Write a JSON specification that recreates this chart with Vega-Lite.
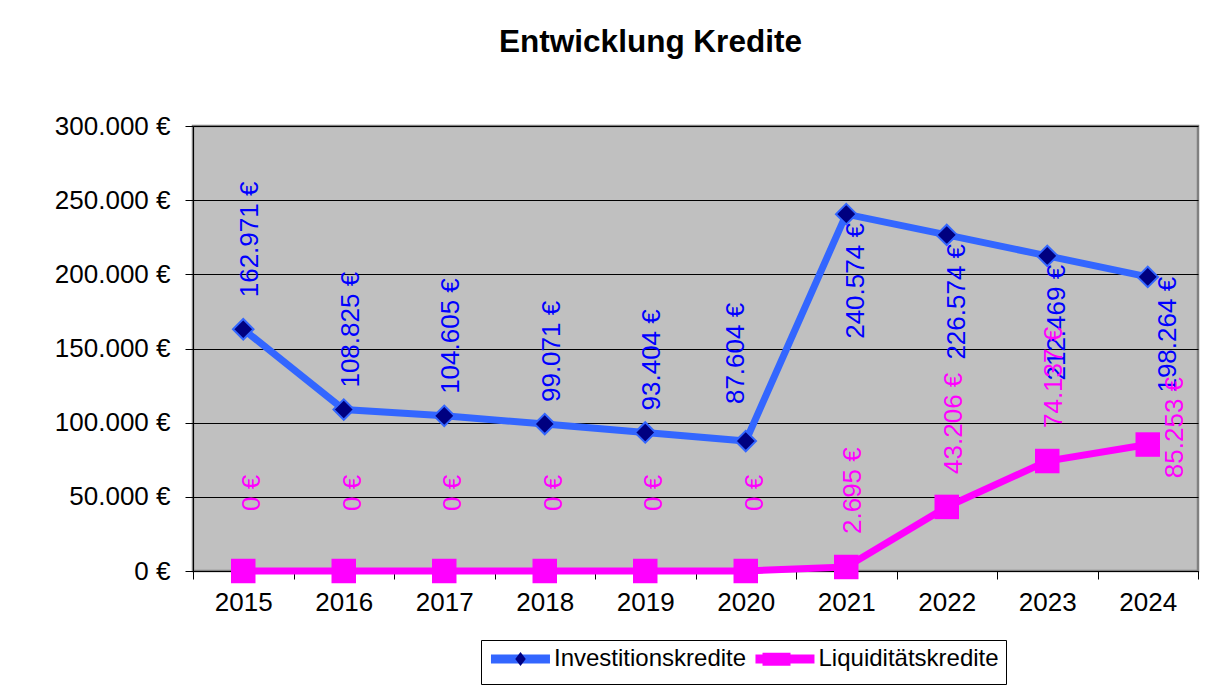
{
  "$schema": "https://vega.github.io/schema/vega-lite/v6.json",
  "width": 1005,
  "height": 445,
  "autosize": {"type": "none"},
  "padding": {"left": 193, "top": 126, "right": 24, "bottom": 115},
  "background": "white",
  "config": {
    "font": "Liberation Sans",
    "locale": {"number": {"decimal": ",", "thousands": ".", "grouping": [3], "currency": ["", " €"]}},
    "view": {"fill": "#C0C0C0", "stroke": "#808080", "strokeWidth": 2.5}
  },
  "title": {
    "text": "Entwicklung Kredite",
    "fontSize": 31.5,
    "fontWeight": "bold",
    "color": "black",
    "anchor": "middle",
    "dx": -45,
    "offset": 55
  },
  "data": {
    "values": [
      {"year": 2015, "series": "Investitionskredite", "value": 162971},
      {"year": 2016, "series": "Investitionskredite", "value": 108825},
      {"year": 2017, "series": "Investitionskredite", "value": 104605},
      {"year": 2018, "series": "Investitionskredite", "value": 99071},
      {"year": 2019, "series": "Investitionskredite", "value": 93404},
      {"year": 2020, "series": "Investitionskredite", "value": 87604},
      {"year": 2021, "series": "Investitionskredite", "value": 240574},
      {"year": 2022, "series": "Investitionskredite", "value": 226574},
      {"year": 2023, "series": "Investitionskredite", "value": 212469},
      {"year": 2024, "series": "Investitionskredite", "value": 198264},
      {"year": 2015, "series": "Liquiditätskredite", "value": 0},
      {"year": 2016, "series": "Liquiditätskredite", "value": 0},
      {"year": 2017, "series": "Liquiditätskredite", "value": 0},
      {"year": 2018, "series": "Liquiditätskredite", "value": 0},
      {"year": 2019, "series": "Liquiditätskredite", "value": 0},
      {"year": 2020, "series": "Liquiditätskredite", "value": 0},
      {"year": 2021, "series": "Liquiditätskredite", "value": 2695},
      {"year": 2022, "series": "Liquiditätskredite", "value": 43206},
      {"year": 2023, "series": "Liquiditätskredite", "value": 74137},
      {"year": 2024, "series": "Liquiditätskredite", "value": 85253}
    ]
  },
  "encoding": {
    "x": {
      "field": "year",
      "type": "ordinal",
      "scale": {"type": "band", "paddingInner": 0, "paddingOuter": 0},
      "axis": {
        "title": null,
        "labelAngle": 0,
        "labelFontSize": 26,
        "labelColor": "black",
        "tickBand": "extent",
        "tickSize": 8,
        "tickColor": "black",
        "domainColor": "black",
        "labelPadding": 10,
        "grid": false
      }
    },
    "y": {
      "field": "value",
      "type": "quantitative",
      "scale": {"domain": [0, 300000]},
      "axis": {
        "title": null,
        "values": [0, 50000, 100000, 150000, 200000, 250000, 300000],
        "format": "$,.0f",
        "labelFontSize": 26,
        "labelColor": "black",
        "tickSize": 8,
        "tickColor": "black",
        "domainColor": "black",
        "gridColor": "black",
        "gridWidth": 1,
        "labelPadding": 15
      }
    }
  },
  "layer": [
    {
      "mark": {"type": "line", "strokeWidth": 7},
      "encoding": {
        "stroke": {
          "field": "series",
          "type": "nominal",
          "scale": {"domain": ["Investitionskredite", "Liquiditätskredite"], "range": ["#3366FF", "#FF00FF"]},
          "legend": {
            "title": null,
            "orient": "none",
            "legendX": 288,
            "legendY": 514,
            "direction": "horizontal",
            "padding": 7,
            "strokeColor": "black",
            "fillColor": "white",
            "labelFontSize": 24,
            "labelColor": "black",
            "labelLimit": 400,
            "labelOffset": 42,
            "columnPadding": -10.5,
            "symbolType": "M-1.29,0L7.14,0",
            "symbolSize": 196,
            "symbolStrokeWidth": 9,
            "symbolOpacity": 1
          }
        }
      }
    },
    {
      "transform": [{"filter": "false"}],
      "mark": {"type": "point", "filled": true, "strokeWidth": 0, "opacity": 1},
      "encoding": {
        "fill": {
          "field": "s2",
          "type": "nominal",
          "scale": {"domain": ["I", "L"], "range": ["#000080", "#FF00FF"]},
          "legend": {
            "title": null,
            "orient": "none",
            "legendX": 293,
            "legendY": 519,
            "direction": "horizontal",
            "padding": 7,
            "labelFontSize": 1,
            "labelOpacity": 0,
            "labelOffset": 42,
            "columnPadding": 200,
            "labelExpr": "''",
            "symbolSize": 196,
            "symbolStrokeWidth": 0,
            "symbolOpacity": 1
          }
        },
        "shape": {
          "field": "s2",
          "type": "nominal",
          "scale": {"domain": ["I", "L"], "range": ["M2.93,-1L3.68,0L2.93,1L2.18,0Z", "M0.93,-0.93L4.93,-0.93L4.93,0.93L0.93,0.93Z"]},
          "legend": {
            "title": null,
            "orient": "none",
            "legendX": 293,
            "legendY": 519,
            "direction": "horizontal",
            "padding": 7,
            "labelFontSize": 1,
            "labelOpacity": 0,
            "labelOffset": 42,
            "columnPadding": 200,
            "labelExpr": "''",
            "symbolSize": 196,
            "symbolStrokeWidth": 0,
            "symbolOpacity": 1
          }
        }
      }
    },
    {
      "transform": [{"filter": "datum.series === 'Investitionskredite'"}],
      "mark": {"type": "point", "shape": "diamond", "filled": true, "fill": "#000080", "stroke": "#3366FF", "strokeWidth": 2, "size": 420, "opacity": 1}
    },
    {
      "transform": [{"filter": "datum.series === 'Liquiditätskredite'"}],
      "mark": {"type": "square", "size": 600, "color": "#FF00FF", "opacity": 1}
    },
    {
      "transform": [{"filter": "datum.series === 'Investitionskredite' && datum.year === 2015"}],
      "mark": {"type": "text", "angle": 270, "align": "left", "baseline": "middle", "dx": 32, "dy": 7, "fontSize": 26, "color": "#0000FF"},
      "encoding": {"text": {"field": "value", "type": "quantitative", "format": "$,.0f"}}
    },
    {
      "transform": [{"filter": "datum.series === 'Investitionskredite' && datum.year >= 2016 && datum.year <= 2019"}],
      "mark": {"type": "text", "angle": 270, "align": "left", "baseline": "middle", "dx": 22, "dy": 7, "fontSize": 26, "color": "#0000FF"},
      "encoding": {"text": {"field": "value", "type": "quantitative", "format": "$,.0f"}}
    },
    {
      "transform": [{"filter": "datum.series === 'Investitionskredite' && datum.year === 2020"}],
      "mark": {"type": "text", "angle": 270, "align": "left", "baseline": "middle", "dx": 37, "dy": -10, "fontSize": 26, "color": "#0000FF"},
      "encoding": {"text": {"field": "value", "type": "quantitative", "format": "$,.0f"}}
    },
    {
      "transform": [{"filter": "datum.series === 'Investitionskredite' && datum.year >= 2021 && datum.year <= 2023"}],
      "mark": {"type": "text", "angle": 270, "align": "right", "baseline": "middle", "dx": -9, "dy": 10, "fontSize": 26, "color": "#0000FF"},
      "encoding": {"text": {"field": "value", "type": "quantitative", "format": "$,.0f"}}
    },
    {
      "transform": [{"filter": "datum.series === 'Investitionskredite' && datum.year === 2024"}],
      "mark": {"type": "text", "angle": 270, "align": "right", "baseline": "middle", "dx": 0, "dy": 20, "fontSize": 26, "color": "#0000FF"},
      "encoding": {"text": {"field": "value", "type": "quantitative", "format": "$,.0f"}}
    },
    {
      "transform": [{"filter": "datum.series === 'Liquiditätskredite' && datum.year <= 2020"}],
      "mark": {"type": "text", "angle": 270, "align": "left", "baseline": "middle", "dx": 60, "dy": 9, "fontSize": 26, "color": "#FF00FF"},
      "encoding": {"text": {"field": "value", "type": "quantitative", "format": "$,.0f"}}
    },
    {
      "transform": [{"filter": "datum.series === 'Liquiditätskredite' && datum.year >= 2021 && datum.year <= 2023"}],
      "mark": {"type": "text", "angle": 270, "align": "left", "baseline": "middle", "dx": 33, "dy": 7, "fontSize": 26, "color": "#FF00FF"},
      "encoding": {"text": {"field": "value", "type": "quantitative", "format": "$,.0f"}}
    },
    {
      "transform": [{"filter": "datum.series === 'Liquiditätskredite' && datum.year === 2024"}],
      "mark": {"type": "text", "angle": 270, "align": "center", "baseline": "middle", "dx": 17, "dy": 27, "fontSize": 26, "color": "#FF00FF"},
      "encoding": {"text": {"field": "value", "type": "quantitative", "format": "$,.0f"}}
    }
  ]
}
